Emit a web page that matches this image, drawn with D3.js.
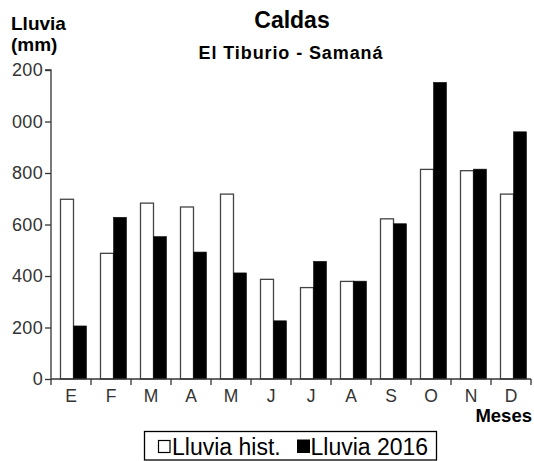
<!DOCTYPE html>
<html>
<head>
<meta charset="utf-8">
<script src="https://cdn.jsdelivr.net/npm/d3@7"></script>
<style>
  html, body { margin: 0; padding: 0; background: #fff; }
  svg { display: block; font-family: "Liberation Sans", Arial, Helvetica, sans-serif; }
</style>
</head>
<body>
<svg id="chart" width="534" height="461"></svg>
<script>
const months = ["E", "F", "M", "A", "M", "J", "J", "A", "S", "O", "N", "D"];
const monthKeys = ["Ene", "Feb", "Mar", "Abr", "May", "Jun", "Jul", "Ago", "Sep", "Oct", "Nov", "Dic"];
const lluviaHist = [698, 488, 683, 668, 718, 387, 355, 379, 622, 814, 809, 718];
const lluvia2016 = [206, 628, 553, 493, 412, 226, 457, 380, 603, 1152, 815, 960];
const yTicks = [0, 200, 400, 600, 800, 1000, 1200];
const seriesNames = ["Lluvia hist.", "Lluvia 2016"];

const svg = d3.select("#chart");
const W = 534, H = 461;
const mLeft = 51, mRight = 531, mTop = 70, mBottom = 379;

const x = d3.scaleBand().domain(monthKeys).range([mLeft, mRight]).padding(0);
const y = d3.scaleLinear().domain([0, 1200]).range([mBottom, mTop]);

// Titles
svg.append("text").attr("x", 292).attr("y", 28).attr("text-anchor", "middle")
  .attr("font-weight", "bold").attr("font-size", 23).attr("fill", "#000").text("Caldas");
svg.append("text").attr("x", 291).attr("y", 59).attr("text-anchor", "middle")
  .attr("font-weight", "bold").attr("font-size", 18).attr("letter-spacing", 0.9).attr("fill", "#000").text("El Tiburio - Samaná");

// Y axis title
svg.append("text").attr("x", 11).attr("y", 30).attr("font-weight", "bold").attr("font-size", 19).attr("fill", "#000").text("Lluvia");
svg.append("text").attr("x", 11).attr("y", 51).attr("font-weight", "bold").attr("font-size", 19).attr("fill", "#000").text("(mm)");

// Bars
const bw = 13, off = 9.5;
const g = svg.append("g");
g.selectAll("rect.hist").data(monthKeys).join("rect")
  .attr("class", "hist")
  .attr("x", (d) => x(d) + off)
  .attr("y", (d, i) => y(lluviaHist[i]))
  .attr("width", bw)
  .attr("height", (d, i) => y(0) - y(lluviaHist[i]))
  .attr("fill", "#fff").attr("stroke", "#444").attr("stroke-width", 1.3);
g.selectAll("rect.y16").data(monthKeys).join("rect")
  .attr("class", "y16")
  .attr("x", (d) => x(d) + off + bw)
  .attr("y", (d, i) => y(lluvia2016[i]))
  .attr("width", bw)
  .attr("height", (d, i) => y(0) - y(lluvia2016[i]))
  .attr("fill", "#000").attr("stroke", "#111").attr("stroke-width", 0.6);

// Y axis (labels clipped at the left edge like the reference)
svg.append("defs").append("clipPath").attr("id", "yclip")
  .append("rect").attr("x", 11.5).attr("y", 0).attr("width", W).attr("height", H);
const yAxis = d3.axisLeft(y).tickValues(yTicks).tickSize(6).tickPadding(2).tickFormat(d3.format("d"));
const yg = svg.append("g").attr("transform", `translate(${mLeft},0)`).call(yAxis);
yg.select(".domain").attr("stroke", "#333").attr("stroke-width", 1.3).attr("d", `M-6,${mTop}H0V${mBottom}`);
yg.selectAll(".tick line").attr("stroke", "#333").attr("stroke-width", 1.3);
yg.selectAll(".tick text").remove();
const labelsG = svg.append("g").attr("clip-path", "url(#yclip)");
labelsG.selectAll("text").data(yTicks).join("text")
  .attr("x", mLeft - 8).attr("y", (d) => y(d)).attr("dy", "0.36em")
  .attr("text-anchor", "end").attr("font-size", 18).attr("fill", "#333").attr("letter-spacing", 0.3)
  .text((d) => d3.format("d")(d));

// X axis
const xg = svg.append("g").attr("transform", `translate(0,${mBottom})`);
xg.append("path").attr("d", `M${mLeft},0H${mRight}`).attr("stroke", "#333").attr("stroke-width", 1.3).attr("fill", "none");
const bounds = monthKeys.map((d) => x(d)).concat([x(monthKeys[11]) + x.bandwidth()]);
xg.selectAll("line.tk").data(bounds).join("line").attr("class", "tk")
  .attr("x1", (d) => d).attr("x2", (d) => d).attr("y1", 0).attr("y2", 6)
  .attr("stroke", "#333").attr("stroke-width", 1.3);
xg.selectAll("text.ml").data(monthKeys).join("text").attr("class", "ml")
  .attr("x", (d) => x(d) + x.bandwidth() / 2).attr("y", 22.5)
  .attr("text-anchor", "middle").attr("font-size", 17.5).attr("fill", "#333")
  .text((d, i) => months[i]);

svg.append("text").attr("x", 532).attr("y", 422).attr("text-anchor", "end")
  .attr("font-weight", "bold").attr("font-size", 18.5).attr("fill", "#000").text("Meses");

// Legend
const lg = svg.append("g");
lg.append("rect").attr("x", 144.5).attr("y", 431.5).attr("width", 292).attr("height", 28.5)
  .attr("fill", "#fff").attr("stroke", "#000").attr("stroke-width", 1.3);
lg.append("rect").attr("x", 158.5).attr("y", 440.5).attr("width", 11.5).attr("height", 12)
  .attr("fill", "#fff").attr("stroke", "#000").attr("stroke-width", 1.2);
lg.append("text").attr("x", 172).attr("y", 455).attr("font-size", 23).attr("fill", "#000").text(seriesNames[0]);
lg.append("rect").attr("x", 297).attr("y", 439.5).attr("width", 13).attr("height", 13.5).attr("fill", "#000");
lg.append("text").attr("x", 310.5).attr("y", 455).attr("font-size", 23).attr("fill", "#000").text(seriesNames[1]);
</script>
</body>
</html>
